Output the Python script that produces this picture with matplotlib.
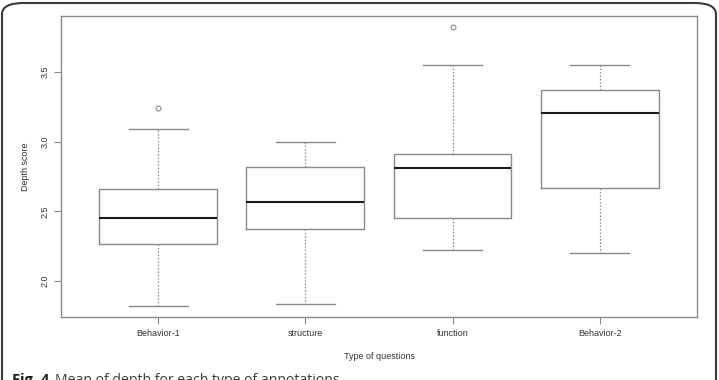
import matplotlib
matplotlib.use("Agg")
import matplotlib.pyplot as plt
from matplotlib.patches import FancyBboxPatch

# boxplot stats
labels = ["Behavior-1", "structure", "function", "Behavior-2"]
whislo = [1.824, 1.838, 2.224, 2.202]
q1 = [2.264, 2.371, 2.455, 2.671]
med = [2.455, 2.566, 2.810, 3.202]
q3 = [2.657, 2.816, 2.914, 3.369]
whishi = [3.093, 3.000, 3.548, 3.548]
fliers = [[3.243], [], [3.824], []]

plt.rcParams['font.family'] = ['Liberation Sans', 'DejaVu Sans']

fig = plt.figure(figsize=(7.19, 3.80), dpi=100)
ax = fig.add_axes([61/719, 63/380, 636/719, 301/380])

stats = []
for i in range(len(labels)):
    stats.append(dict(label=labels[i], whislo=whislo[i], q1=q1[i], med=med[i],
                      q3=q3[i], whishi=whishi[i], fliers=fliers[i]))

grey = '#8a8a8a'
ax.bxp(stats, positions=range(1, 5), widths=0.8, showfliers=True,
       boxprops=dict(color=grey, linewidth=1.0),
       medianprops=dict(color='#1a1a1a', linewidth=1.5),
       whiskerprops=dict(color=grey, linewidth=0.9, linestyle=(0, (1.2, 1.5))),
       capprops=dict(color=grey, linewidth=1.0),
       capwidths=0.4,
       flierprops=dict(marker='o', markersize=3.5, markerfacecolor='none',
                       markeredgecolor=grey, markeredgewidth=0.8))

ax.set_xlim(0.34, 4.66)
ax.set_ylim(1.743, 3.90)
ax.set_yticks([2.0, 2.5, 3.0, 3.5])
ax.set_yticklabels(['2.0', '2.5', '3.0', '3.5'], rotation=90, va='center')
ax.set_xticks(range(1, 5))
ax.set_xticklabels(labels)

for s in ax.spines.values():
    s.set_color(grey)
    s.set_linewidth(1.0)
ax.tick_params(colors=grey, labelcolor='#333333', labelsize=6.5, length=5, width=0.8, pad=3)
ax.tick_params(axis='x', pad=4)

ax.set_ylabel('Depth score', fontsize=6.5, color='#333333', labelpad=8)
ax.set_xlabel('Type of questions', fontsize=6.5, color='#333333', labelpad=10)

# outer rounded frame of the figure panel
frame = FancyBboxPatch((2/719, -0.2), 714/719, 1.2 - 3/380,
                       boxstyle='round,pad=0,rounding_size=0.03',
                       transform=fig.transFigure, fill=False,
                       edgecolor='#3a3a3a', linewidth=1.5)
fig.patches.append(frame)

# caption, cut off at the bottom of the image as in the source
fig.text(12/719, -4/380, 'Fig. 4', fontsize=10.5, fontweight='bold',
         family=['Open Sans', 'DejaVu Sans'], color='#1a1a1a', va='baseline')
fig.text(55/719, -4/380, 'Mean of depth for each type of annotations', fontsize=10.1,
         family=['Open Sans', 'DejaVu Sans'], color='#3a3a3a', va='baseline')

fig.savefig('out.png', dpi=100)
